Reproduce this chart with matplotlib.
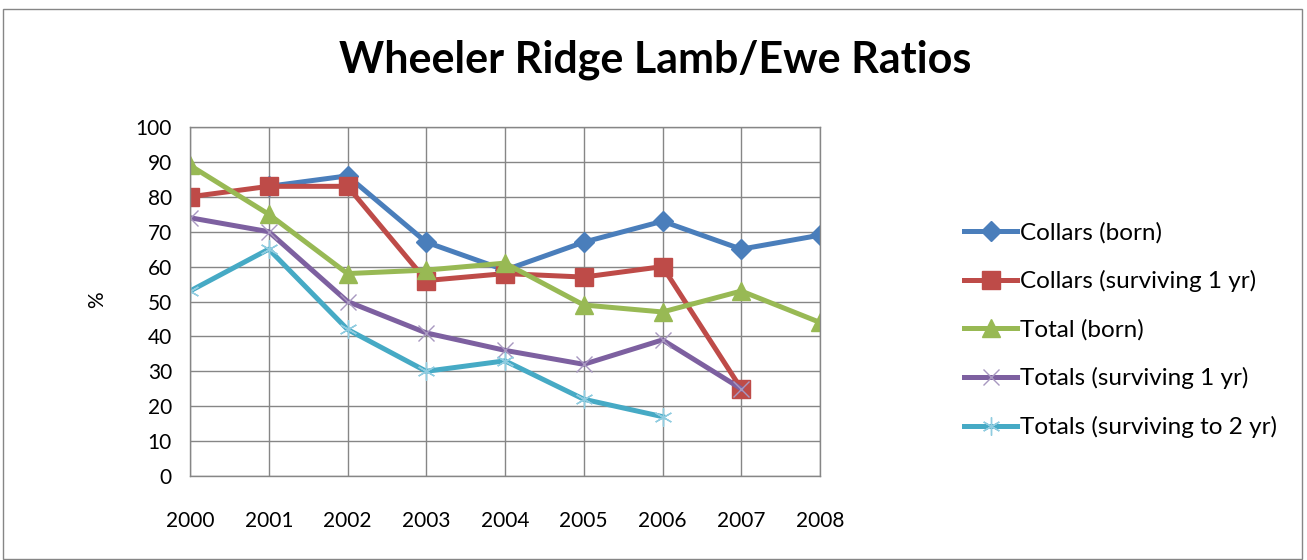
import matplotlib
matplotlib.use('Agg')
import matplotlib.pyplot as plt
from matplotlib.patches import Rectangle

plt.rcParams['font.family'] = ['Lato', 'DejaVu Sans']

years = [2000, 2001, 2002, 2003, 2004, 2005, 2006, 2007, 2008]

# None = no value for that year
collars_born = [None, 83, 86, 67, 59, 67, 73, 65, 69]
collars_surv1 = [80, 83, 83, 56, 58, 57, 60, 25, None]
total_born = [89, 75, 58, 59, 61, 49, 47, 53, 44]
totals_surv1 = [74, 70, 50, 41, 36, 32, 39, 25, None]
totals_surv2 = [53, 65, 42, 30, 33, 22, 17, None, None]

series = [
    ("Collars (born)", collars_born, '#4A7EBB', dict(marker='D', markersize=10)),
    ("Collars (surviving 1 yr)", collars_surv1, '#BE4B48', dict(marker='s', markersize=13)),
    ("Total (born)", total_born, '#98B954', dict(marker='^', markersize=13)),
    ("Totals (surviving 1 yr)", totals_surv1, '#7D60A0',
     dict(marker='x', markersize=12, markeredgewidth=1, markeredgecolor='#A898C0')),
    ("Totals (surviving to 2 yr)", totals_surv2, '#46AAC5',
     dict(marker=(6, 2, 0), markersize=13, markeredgewidth=1, markeredgecolor='#90CCE0')),
]

fig = plt.figure(figsize=(13.07, 5.6), dpi=100)
ax = fig.add_axes([190 / 1307, 1 - 476 / 560, 630 / 1307, 349 / 560])

for label, vals, color, mk in series:
    xs = [i for i, v in enumerate(vals) if v is not None]
    ys = [v for v in vals if v is not None]
    ax.plot(xs, ys, color=color, linewidth=3.6, label=label, **mk)

ax.set_xlim(0, len(years) - 1)
ax.set_ylim(0, 100)
ax.set_xticks(range(len(years)))
ax.set_xticklabels([str(y) for y in years])
ax.set_yticks(range(0, 101, 10))
ax.grid(True, color='#868686', linewidth=1)
ax.set_axisbelow(True)
ax.tick_params(length=0, labelsize=15)
ax.tick_params(axis='y', pad=13)
ax.tick_params(axis='x', pad=25)
for spine in ax.spines.values():
    spine.set_color('#868686')
    spine.set_linewidth(1)

fig.text(97 / 1307, 1 - 300 / 560, '%', rotation=90, ha='center', va='center',
         fontsize=15)

fig.text(655 / 1307, 1 - 60 / 560, 'Wheeler Ridge Lamb/Ewe Ratios',
         ha='center', va='center', fontsize=31, fontweight='bold')

ax.legend(loc='center left', bbox_to_anchor=(964 / 1307, 1 - 330 / 560),
          bbox_transform=fig.transFigure, frameon=False, fontsize=17.5,
          handlelength=2.2, handletextpad=0.1, labelspacing=1.1,
          borderpad=0, borderaxespad=0)

fig.patches.append(Rectangle((3 / 1307, 0.002), 1299 / 1307, 1 - 10 / 560,
                             transform=fig.transFigure, fill=False,
                             edgecolor='#868686', linewidth=1))

fig.savefig('out.png', dpi=100)
